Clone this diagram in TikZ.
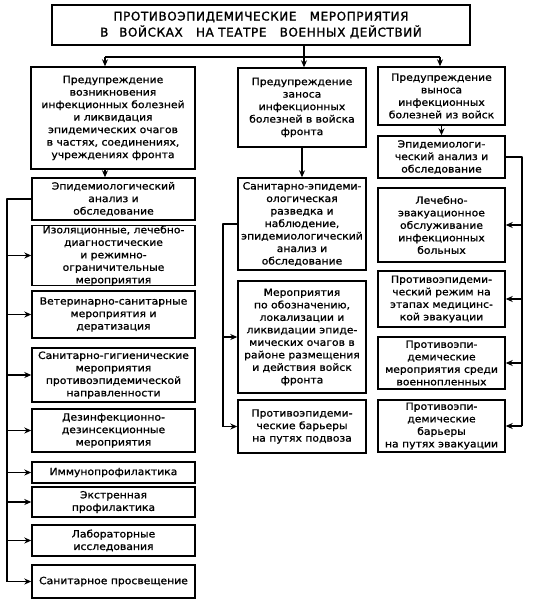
\documentclass[tikz,border=0pt]{standalone}
\usepackage{fontspec}
\setmainfont{DejaVu Sans}[FakeStretch=1.08,FakeBold=1.2]
\newfontfamily\titlefont{DejaVu Sans}[LetterSpace=5,FakeBold=1.5]
\usetikzlibrary{arrows.meta}
\newcommand\mkbox[6]{\node[box,txt,minimum width={(#4)-(#2)},minimum height={(#5)-(#3)}] (#1) at ({((#2)+(#4))/2},{((#3)+(#5))/2}) {#6};}
\begin{document}
\begin{tikzpicture}[x=1pt,y=-1pt,
  box/.style={draw, line width=1.4pt, inner sep=0pt},
  txt/.style={align=center, font=\fontsize{10}{12.5}\selectfont},
  conn/.style={line width=1.8pt, line join=round},
  arr/.style={conn, -{Stealth[length=7pt,width=6pt]}},
]
\useasboundingbox (0,0) rectangle (533,602);
% title
\node[box, minimum width=418, minimum height=40, align=center,
  font=\titlefont\fontsize{12}{16}\selectfont] (t) at (261,25)
  {ПРОТИВОЭПИДЕМИЧЕСКИЕ\hspace{1.1em}МЕРОПРИЯТИЯ\\
   В\hspace{0.9em}ВОЙСКАХ\hspace{1.1em}НА ТЕАТРЕ\hspace{1.1em}ВОЕННЫХ ДЕЙСТВИЙ};
% top row
\mkbox{L1}{31}{67}{195}{169}{Предупреждение\\возникновения\\инфекционных болезней\\и ликвидация\\эпидемических очагов\\в частях, соединениях,\\учреждениях фронта}
\mkbox{M1}{238}{68}{366}{147}{Предупреждение\\заноса\\инфекционных\\болезней в войска\\фронта}
\mkbox{R1}{378}{67}{505}{125}{Предупреждение\\выноса\\инфекционных\\болезней из войск}
% left column
\mkbox{L2}{32}{178}{195}{220}{Эпидемиологический\\анализ и\\обследование}
\mkbox{L3}{32}{229}{195}{282}{\fontsize{10}{10.5}\selectfont Изоляционные, лечебно-\\диагностические\\и режимно-\\ограничительные\\мероприятия}
\mkbox{L4}{32}{291}{195}{338}{Ветеринарно-санитарные\\мероприятия и\\дератизация}
\mkbox{L5}{32}{348}{195}{402}{Санитарно-гигиенические\\мероприятия\\противоэпидемической\\направленности}
\mkbox{L6}{32}{409}{195}{452}{Дезинфекционно-\\дезинсекционные\\мероприятия}
\mkbox{L7}{32}{462}{195}{483}{Иммунопрофилактика}
\mkbox{L8}{32}{487}{195}{517}{Экстренная\\профилактика}
\mkbox{L9}{32}{525}{195}{556}{Лабораторные\\исследования}
\mkbox{L10}{32}{565}{195}{598}{Санитарное просвещение}
% middle column
\mkbox{M2}{238}{178}{366}{270}{\fontsize{10}{12}\selectfont Санитарно-эпидеми-\\ологическая\\разведка и\\наблюдение,\\эпидемиологический\\анализ и\\обследование}
\mkbox{M3}{238}{281}{366}{393}{Мероприятия\\по обозначению,\\локализации и\\ликвидации эпиде-\\мических очагов в\\районе размещения\\и действия войск\\фронта}
\mkbox{M4}{238}{400}{366}{453}{Противоэпидеми-\\ческие барьеры\\на путях подвоза}
% right column
\mkbox{R2}{378}{136}{505}{178}{Эпидемиологи-\\ческий анализ и\\обследование}
\mkbox{R3}{378}{188}{505}{262}{Лечебно-\\эвакуационное\\обслуживание\\инфекционных\\больных}
\mkbox{R4}{378}{271}{505}{327}{Противоэпидеми-\\ческий режим на\\этапах медицинс-\\кой эвакуации}
\mkbox{R5}{378}{337}{505}{389}{Противоэпи-\\демические\\мероприятия среди\\военнопленных}
\mkbox{R6}{378}{400}{505}{452}{Противоэпи-\\демические\\барьеры\\на путях эвакуации}
% top connectors
\coordinate (bL) at (105,57);
\coordinate (bM) at (304,57);
\coordinate (bR) at (440,57);
\draw[conn] (t.south -| bM) -- (bM);
\draw[conn] (bL) -- (bR);
\draw[arr] (bL) -- (bL |- L1.north);
\draw[arr] (bM) -- (bM |- M1.north);
\draw[arr] (bR) -- (bR |- R1.north);
\draw[arr] (L1.south -| bL) -- (L2.north -| bL);
\draw[arr] (M1.south) -- (M2.north);
\draw[arr] (R1.south) -- (R2.north);
% left bus
\coordinate (lx) at (7,0);
\draw[conn] (L2.west) -- (L2.west -| lx) -- (L10.west -| lx);
\foreach \n in {L3,L4,L5,L6,L7,L8,L9,L10}
  \draw[arr] (\n.west -| lx) -- (\n.west);
% middle bus
\coordinate (mx) at (223,0);
\draw[conn] (M2.west) -- (M2.west -| mx) -- (M4.west -| mx);
\foreach \n in {M3,M4}
  \draw[arr] (\n.west -| mx) -- (\n.west);
% right bus
\coordinate (rx) at (522,0);
\draw[conn] (R2.east) -- (R2.east -| rx) -- (R6.east -| rx);
\foreach \n in {R3,R4,R5,R6}
  \draw[arr] (\n.east -| rx) -- (\n.east);
\end{tikzpicture}
\end{document}
